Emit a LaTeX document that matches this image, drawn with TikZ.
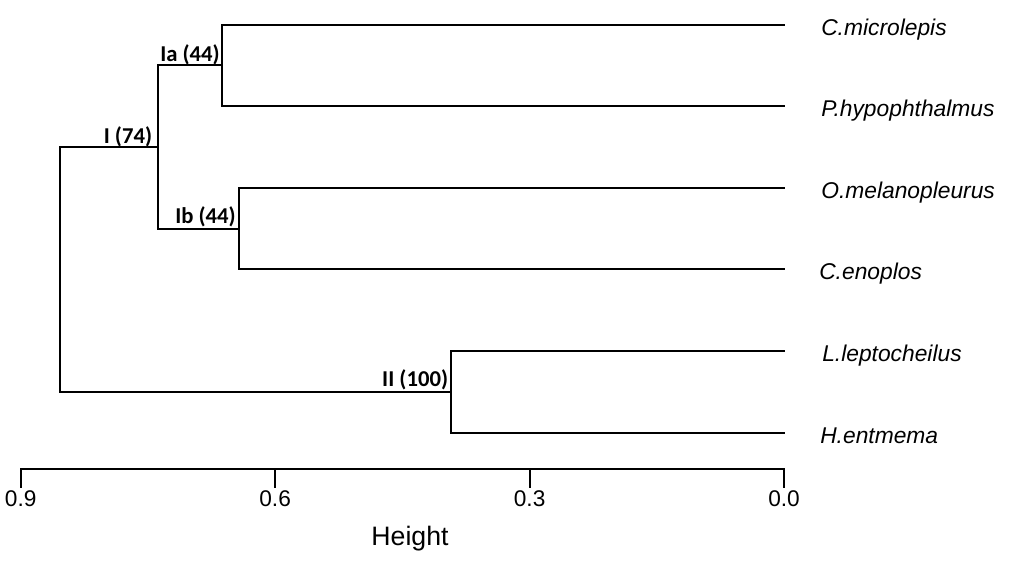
\documentclass[tikz,border=0pt]{standalone}
\usepackage{fontspec}
\setmainfont{Liberation Sans}
\newfontfamily\lblfont{Carlito}
\begin{document}
\begin{tikzpicture}[x=0.75pt,y=-0.75pt,
  branch/.style={line width=1.5pt,line cap=rect},
  leaflabel/.style={anchor=base west,inner sep=0pt,font=\fontsize{17.1}{20}\selectfont\itshape},
  clusterlabel/.style={anchor=base east,inner sep=0pt,font=\lblfont\bfseries\fontsize{17}{20}\selectfont},
  ticklabel/.style={anchor=base,inner sep=0pt,font=\fontsize{17}{20}\selectfont}]
\useasboundingbox (0,0) rectangle (1013,564);
% leaves
\coordinate (l1) at (784,24.5);
\coordinate (l2) at (784,106.1);
\coordinate (l3) at (784,187.7);
\coordinate (l4) at (784,269.3);
\coordinate (l5) at (784,350.9);
\coordinate (l6) at (784,432.5);
% internal nodes
\coordinate (nIa) at (222,65.3);
\coordinate (nIb) at (239,228.5);
\coordinate (nI) at (158,146.9);
\coordinate (nII) at (451,391.7);
\coordinate (root) at (60,269.3);
% branches
\draw[branch] (l1) -| (nIa) |- (l2);
\draw[branch] (l3) -| (nIb) |- (l4);
\draw[branch] (l5) -| (nII) |- (l6);
\draw[branch] (nIa) -| (nI) |- (nIb);
\draw[branch] (nI) -| (root) |- (nII);
% leaf labels
\node[leaflabel] (t1) at (821,35) {C.microlepis};
\node[leaflabel] (t2) at (821,116.6) {P.hypophthalmus};
\node[leaflabel] (t3) at (821,198.2) {O.melanopleurus};
\node[leaflabel] (t4) at (819,279.8) {C.enoplos};
\node[leaflabel] (t5) at (822,361.4) {L.leptocheilus};
\node[leaflabel] (t6) at (820,443) {H.entmema};
% cluster labels
\node[clusterlabel] (cIa) at (220,61) {Ia (44)};
\node[clusterlabel] (cIb) at (236,223.3) {Ib (44)};
\node[clusterlabel] (cI) at (152.3,143.3) {I (74)};
\node[clusterlabel] (cII) at (448.3,386.7) {II (100)};
% axis
\coordinate (a9) at (20.7,469);
\coordinate (a6) at (275.1,469);
\coordinate (a3) at (529.6,469);
\coordinate (a0) at (784,469);
\draw[branch] (a9) -- (a0);
\foreach \p in {a9,a6,a3,a0} \draw[branch] (\p) -- ++(0,18);
\node[ticklabel] (k9) at (20.7,506) {0.9};
\node[ticklabel] (k6) at (275.1,506) {0.6};
\node[ticklabel] (k3) at (529.6,506) {0.3};
\node[ticklabel] (k0) at (784,506) {0.0};
\node[anchor=base,inner sep=0pt,font=\fontsize{20}{24}\selectfont] (ht) at (410,545.7) {Height};
\end{tikzpicture}
\end{document}
